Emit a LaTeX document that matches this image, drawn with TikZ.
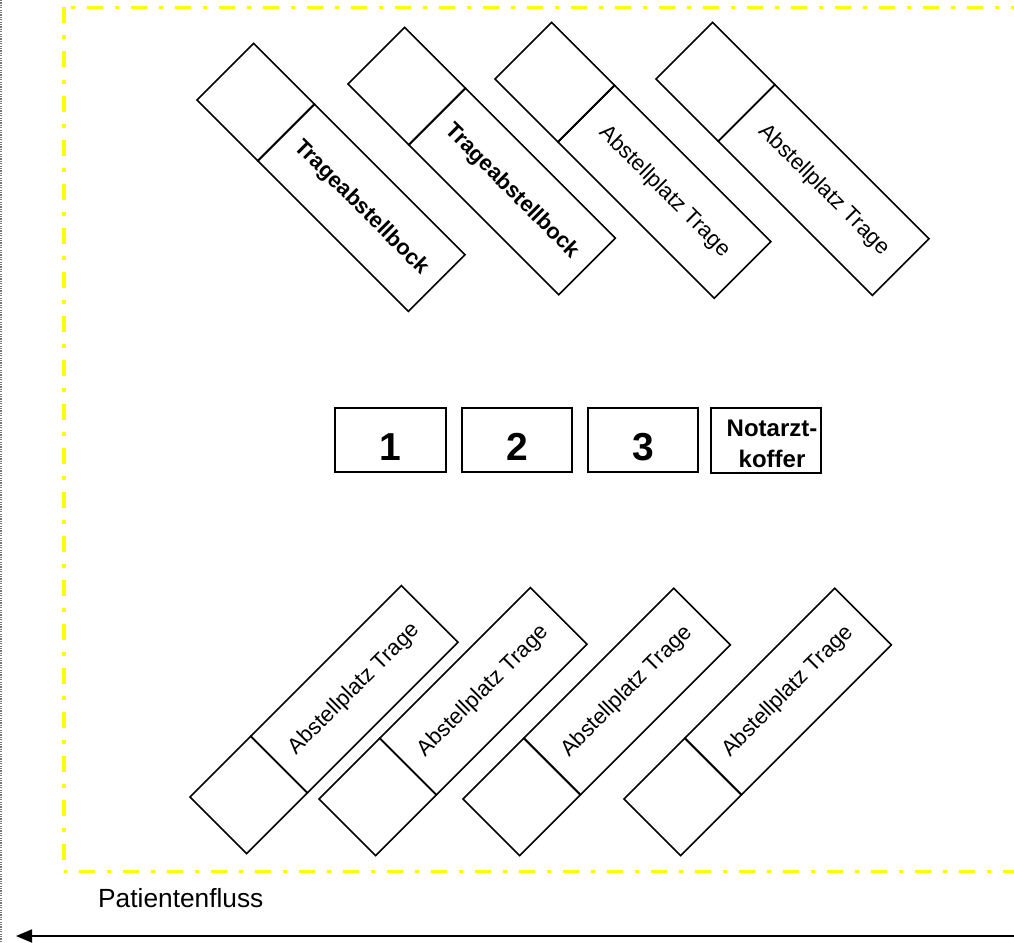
\documentclass[tikz,border=0pt]{standalone}
\usepackage{fontspec}
\setmainfont{Liberation Sans}
\usetikzlibrary{arrows.meta}
\definecolor{zoneyellow}{RGB}{255,255,0}
\definecolor{edgegray}{RGB}{120,120,120}

\begin{document}
\begin{tikzpicture}[x=1pt,y=-1pt,
  box/.style={draw=black,line width=1.6pt,inner sep=0pt,outer sep=0pt},
  slotsq/.style={box,minimum width=86pt,minimum height=80pt},
  slottext/.style={box,minimum height=80pt,font=\fontsize{22}{26}\selectfont},
  slotbold/.style={slottext,font=\bfseries\fontsize{22}{26}\selectfont},
  numbox/.style={box,minimum width=110pt,minimum height=64pt,
    text height=40pt,text depth=0pt,font=\bfseries\fontsize{39}{44}\selectfont},
  zone/.style={draw=zoneyellow,line width=3.5pt,
    dash pattern=on 16pt off 12pt on 4pt off 12pt},
  flowarrow/.style={draw=black,line width=1.8pt,-{Triangle[length=16pt,width=13pt]}}
]
\useasboundingbox (0,0) rectangle (1014,942);
\clip (0,0) rectangle (1014,942);

% outer border and the yellow dash-dot zone
\draw[edgegray,line width=1.3pt,dash pattern=on 1.2pt off 1.2pt] (1,0) -- (1,942);
\draw[zone,dash phase=21pt] (64,7.5) -- (1020,7.5);
\draw[zone,dash phase=0pt] (64,7.5) -- (64,871.5);
\draw[zone,dash phase=29pt] (64,871.5) -- (1020,871.5);

% upper row of stretcher places (tilted down to the right)
\node[slotsq,rotate=-45,anchor=south west] (t1sq) at (197,100) {};
\node[slotbold,rotate=-45,anchor=west,minimum width=213pt] (t1) at (t1sq.east) {Trageabstellbock};
\node[slotsq,rotate=-45,anchor=south west] (t2sq) at (348,84) {};
\node[slotbold,rotate=-45,anchor=west,minimum width=212pt] (t2) at (t2sq.east) {Trageabstellbock};
\node[slotsq,rotate=-45,anchor=south west,minimum width=89pt] (t3sq) at (495,79) {};
\node[slottext,rotate=-45,anchor=west,minimum width=221pt] (t3) at (t3sq.east) {Abstellplatz Trage};
\node[slotsq,rotate=-45,anchor=south west,minimum width=88pt] (t4sq) at (656,79) {};
\node[slottext,rotate=-45,anchor=west,minimum width=218pt] (t4) at (t4sq.east) {Abstellplatz Trage};

% numbered places and the emergency doctor's case
\node[numbox,minimum width=111pt] (n1) at (390.5,440) {1};
\node[numbox] (n2) at (517,440) {2};
\node[numbox] (n3) at (643,440) {3};
\node[box,minimum width=110pt,minimum height=65pt] (n4) at (766,440.5) {};
\node[inner sep=0pt,align=center,font=\bfseries\fontsize{24}{31}\selectfont]
  (n4text) at ([xshift=6pt,yshift=-3.4pt]n4.center) {Notarzt-\\koffer};

% lower row of stretcher places (tilted up to the right)
\node[slotsq,rotate=45,anchor=north west] (b1sq) at (190,797) {};
\node[slottext,rotate=45,anchor=west,minimum width=213pt] (b1) at (b1sq.east) {Abstellplatz Trage};
\node[slotsq,rotate=45,anchor=north west] (b2sq) at (319,799) {};
\node[slottext,rotate=45,anchor=west,minimum width=213pt] (b2) at (b2sq.east) {Abstellplatz Trage};
\node[slotsq,rotate=45,anchor=north west] (b3sq) at (463,799) {};
\node[slottext,rotate=45,anchor=west,minimum width=212pt] (b3) at (b3sq.east) {Abstellplatz Trage};
\node[slotsq,rotate=45,anchor=north west] (b4sq) at (624,799) {};
\node[slottext,rotate=45,anchor=west,minimum width=212pt] (b4) at (b4sq.east) {Abstellplatz Trage};

% patient flow
\node[inner sep=0pt,anchor=base west,font=\fontsize{26.3}{31}\selectfont]
  (flowlabel) at (98,907) {Patientenfluss};
\coordinate (flowstart) at (1016,936);
\coordinate (flowend) at (16,936);
\draw[flowarrow] (flowstart) -- (flowend);
\end{tikzpicture}
\end{document}
